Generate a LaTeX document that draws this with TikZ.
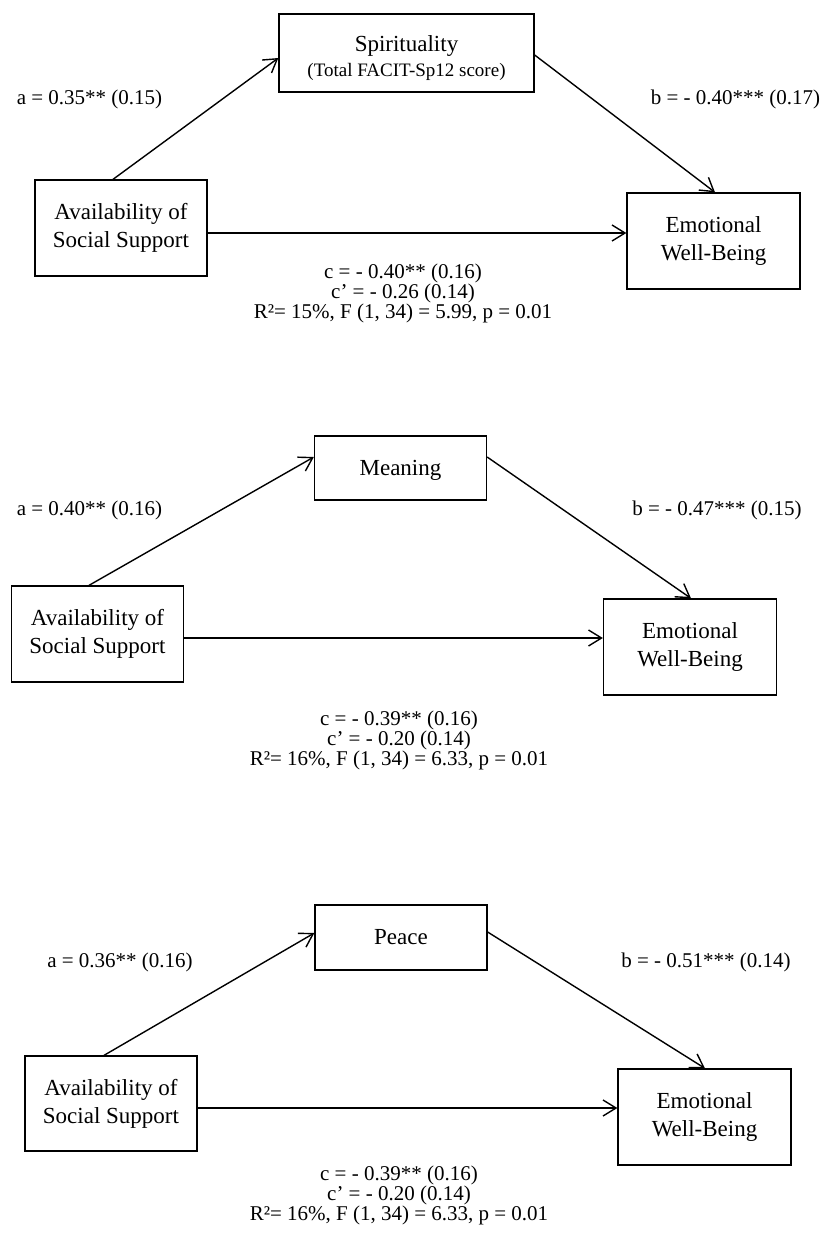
\documentclass[tikz,border=0pt]{standalone}
\usepackage{fontspec}
\setmainfont{Liberation Serif}
\usetikzlibrary{arrows.meta,calc}
\newcommand\mainfs{\fontsize{23}{28}\selectfont}
\newcommand\subfs{\fontsize{19}{22}\selectfont}
\newcommand\coeffs{\fontsize{21}{20}\selectfont}
\tikzset{
  box/.style={draw, line width=1.3pt, align=center, inner sep=0pt, font=\mainfs},
  lbl/.style={align=center, inner sep=0pt, font=\mainfs},
  arr/.style={line width=1.4pt, -{Straight Barb[length=13pt,width=16pt]}},
  coef/.style={font=\coeffs, inner sep=0pt},
  stat/.style={font=\coeffs, align=center, inner sep=0pt}
}
\begin{document}
\begin{tikzpicture}[x=1pt,y=-1pt]
\useasboundingbox (0,0) rectangle (824,1235);
% ---------- Diagram 1 ----------
\node[box, minimum width=255pt, minimum height=78pt] (sp1) at (406.5,53) {};
\node[lbl] (sp1t) at ($(sp1.center)+(0,5)$)
  {Spirituality\\[-3pt]{\subfs (Total FACIT-Sp12 score)}};
\node[box, minimum width=172pt, minimum height=96pt] (av1) at (121,228) {Availability of\\Social Support};
\node[box, minimum width=173pt, minimum height=96pt] (em1) at (713.5,241) {Emotional\\Well-Being};
\node[coef] (a1) at (89.5,99) {a = 0.35** (0.15)};
\node[coef] (b1) at (735.5,99) {b = - 0.40*** (0.17)};
\node[stat] (s1) at (403,293) {c = - 0.40** (0.16)\\c’ = - 0.26 (0.14)\\R²= 15\%, F (1, 34) = 5.99, p = 0.01};
\draw[arr] ($(av1.north)+(-8,0)$) -- ($(sp1.west)+(0,5)$);
\draw[arr] ($(sp1.east)+(0,2)$) -- ($(em1.north)+(1.5,0)$);
\draw[arr] ($(av1.east)+(0,5)$) coordinate (c1) -- (c1 -| em1.west);
% ---------- Diagram 2 ----------
\node[box, minimum width=172pt, minimum height=64pt] (me2) at (400.5,468) {};
\node[lbl] (me2t) at ($(me2.center)+(0,2)$) {Meaning};
\node[box, minimum width=172pt, minimum height=96pt] (av2) at (97.5,634) {Availability of\\Social Support};
\node[box, minimum width=173pt, minimum height=96pt] (em2) at (690,647) {Emotional\\Well-Being};
\node[coef] (a2) at (89.5,510) {a = 0.40** (0.16)};
\node[coef] (b2) at (717,510) {b = - 0.47*** (0.15)};
\node[stat] (s2) at (399,740) {c = - 0.39** (0.16)\\c’ = - 0.20 (0.14)\\R²= 16\%, F (1, 34) = 6.33, p = 0.01};
\draw[arr] ($(av2.north)+(-8.5,0)$) -- ($(me2.west)+(0,-11)$);
\draw[arr] ($(me2.east)+(0,-11)$) -- ($(em2.north)+(1,0)$);
\draw[arr] ($(av2.east)+(0,4)$) coordinate (c2) -- (c2 -| em2.west);
% ---------- Diagram 3 ----------
\node[box, minimum width=172pt, minimum height=65pt] (pe3) at (401,937.5) {Peace};
\node[box, minimum width=172pt, minimum height=95pt] (av3) at (111,1103.5) {Availability of\\Social Support};
\node[box, minimum width=173pt, minimum height=96pt] (em3) at (704.5,1117) {Emotional\\Well-Being};
\node[coef] (a3) at (120,962) {a = 0.36** (0.16)};
\node[coef] (b3) at (706,962) {b = - 0.51*** (0.14)};
\node[stat] (s3) at (399,1195) {c = - 0.39** (0.16)\\c’ = - 0.20 (0.14)\\R²= 16\%, F (1, 34) = 6.33, p = 0.01};
\draw[arr] ($(av3.north)+(-7,0)$) -- ($(pe3.west)+(0,-4.5)$);
\draw[arr] ($(pe3.east)+(0,-5.5)$) -- ($(em3.north)+(0.5,0)$);
\draw[arr] ($(av3.east)+(0,4.5)$) coordinate (c3) -- (c3 -| em3.west);
\end{tikzpicture}
\end{document}
